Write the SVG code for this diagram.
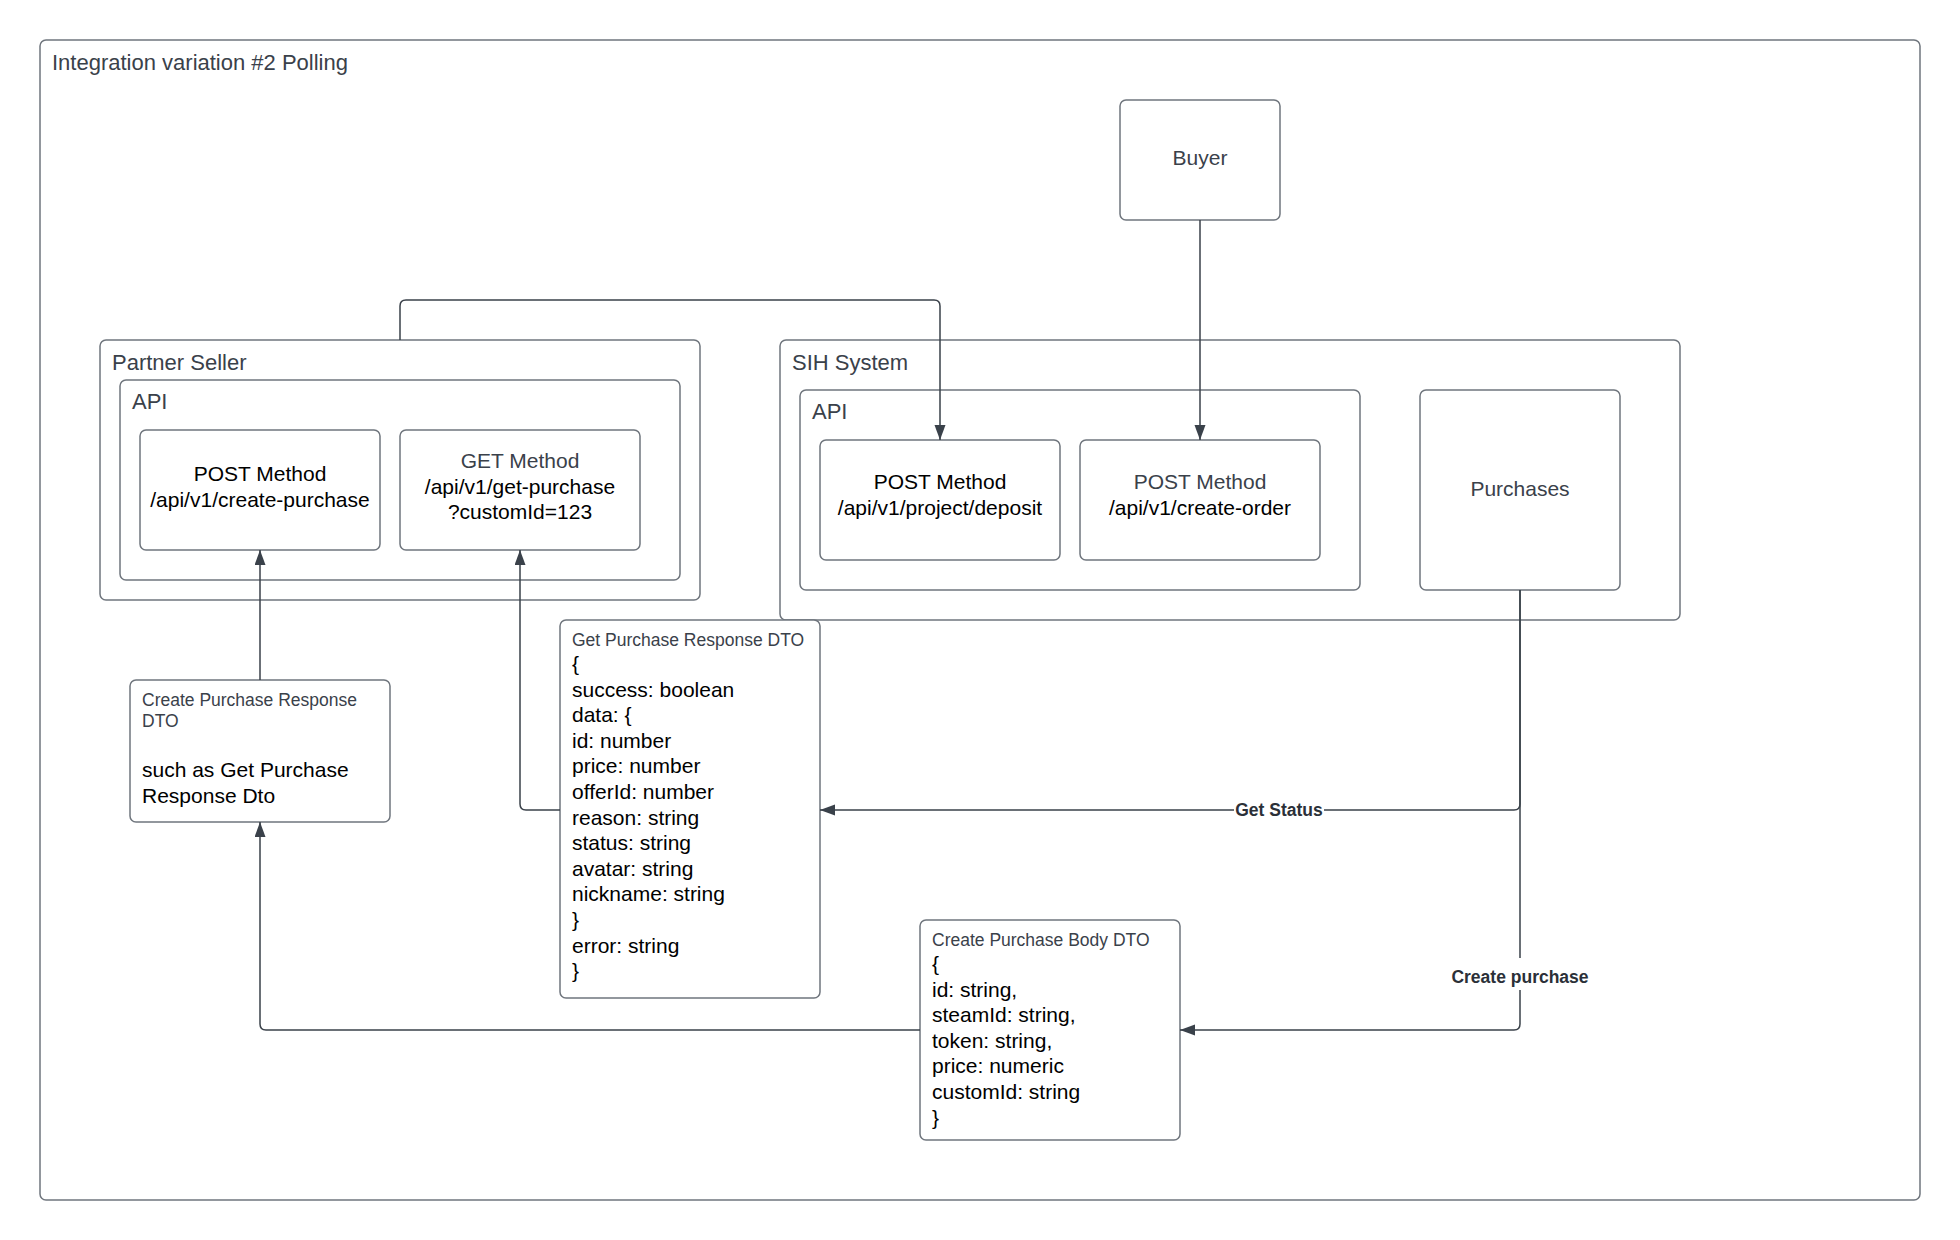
<svg xmlns="http://www.w3.org/2000/svg" width="1960" height="1240" viewBox="0 0 1960 1240">
<defs>
<style>
.box{fill:#fff;stroke:#6f757d;stroke-width:1.5}
.t{font-family:"Liberation Sans",Arial,sans-serif}
.lbl{font-size:22px;fill:#3a414a}
.n{font-size:21px;fill:#000;text-anchor:middle}
.ng{font-size:21px;fill:#3a414a;text-anchor:middle}
.h{font-size:17.5px;fill:#3a414a}
.b{font-size:21px;fill:#000}
.cl{font-size:17.5px;font-weight:bold;fill:#2b3038;text-anchor:middle}
.c{fill:none;stroke:#3a414a;stroke-width:1.5}
</style>
<marker id="arr" markerUnits="userSpaceOnUse" markerWidth="16" markerHeight="12" refX="15" refY="5.5" orient="auto">
<path d="M0,0 L15,5.5 L0,11 z" fill="#3a414a"/>
</marker>
</defs>
<rect width="1960" height="1240" fill="#fff"/>

<g id="frame">
<rect class="box" x="40" y="40" width="1880" height="1160" rx="6"/>
<text class="t lbl" x="52" y="70">Integration variation #2 Polling</text>
</g>

<g id="partner-seller">
<rect class="box" x="100" y="340" width="600" height="260" rx="6"/>
<text class="t lbl" x="112" y="370">Partner Seller</text>
</g>
<g id="partner-api">
<rect class="box" x="120" y="380" width="560" height="200" rx="6"/>
<text class="t lbl" x="132" y="409">API</text>
</g>
<g id="post-create-purchase">
<rect class="box" x="140" y="430" width="240" height="120" rx="6"/>
<text class="t n" x="260" y="481">POST Method</text>
<text class="t n" x="260" y="507">/api/v1/create-purchase</text>
</g>
<g id="get-purchase">
<rect class="box" x="400" y="430" width="240" height="120" rx="6"/>
<text class="t ng" x="520" y="468">GET Method</text>
<text class="t n" x="520" y="494">/api/v1/get-purchase</text>
<text class="t n" x="520" y="519">?customId=123</text>
</g>

<g id="sih-system">
<rect class="box" x="780" y="340" width="900" height="280" rx="6"/>
<text class="t lbl" x="792" y="370">SIH System</text>
</g>
<g id="sih-api">
<rect class="box" x="800" y="390" width="560" height="200" rx="6"/>
<text class="t lbl" x="812" y="419">API</text>
</g>
<g id="post-deposit">
<rect class="box" x="820" y="440" width="240" height="120" rx="6"/>
<text class="t n" x="940" y="489">POST Method</text>
<text class="t n" x="940" y="515">/api/v1/project/deposit</text>
</g>
<g id="post-create-order">
<rect class="box" x="1080" y="440" width="240" height="120" rx="6"/>
<text class="t ng" x="1200" y="489">POST Method</text>
<text class="t n" x="1200" y="515">/api/v1/create-order</text>
</g>
<g id="purchases">
<rect class="box" x="1420" y="390" width="200" height="200" rx="6"/>
<text class="t ng" x="1520" y="496">Purchases</text>
</g>
<g id="buyer">
<rect class="box" x="1120" y="100" width="160" height="120" rx="6"/>
<text class="t ng" x="1200" y="165">Buyer</text>
</g>

<g id="create-purchase-response-dto">
<rect class="box" x="130" y="680" width="260" height="142" rx="6"/>
<text class="t h" x="142" y="706">Create Purchase Response</text>
<text class="t h" x="142" y="727">DTO</text>
<text class="t b" x="142" y="777">such as Get Purchase</text>
<text class="t b" x="142" y="803">Response Dto</text>
</g>

<g id="get-purchase-response-dto">
<rect class="box" x="560" y="620" width="260" height="378" rx="6"/>
<text class="t h" x="572" y="646">Get Purchase Response DTO</text>
<text class="t b" x="572" y="671">{</text>
<text class="t b" x="572" y="696.6">success: boolean</text>
<text class="t b" x="572" y="722.2">data: {</text>
<text class="t b" x="572" y="747.8">id: number</text>
<text class="t b" x="572" y="773.4">price: number</text>
<text class="t b" x="572" y="799">offerId: number</text>
<text class="t b" x="572" y="824.6">reason: string</text>
<text class="t b" x="572" y="850.2">status: string</text>
<text class="t b" x="572" y="875.8">avatar: string</text>
<text class="t b" x="572" y="901.4">nickname: string</text>
<text class="t b" x="572" y="927">}</text>
<text class="t b" x="572" y="952.6">error: string</text>
<text class="t b" x="572" y="978.2">}</text>
</g>

<g id="create-purchase-body-dto">
<rect class="box" x="920" y="920" width="260" height="220" rx="6"/>
<text class="t h" x="932" y="946">Create Purchase Body DTO</text>
<text class="t b" x="932" y="971">{</text>
<text class="t b" x="932" y="996.6">id: string,</text>
<text class="t b" x="932" y="1022.2">steamId: string,</text>
<text class="t b" x="932" y="1047.8">token: string,</text>
<text class="t b" x="932" y="1073.4">price: numeric</text>
<text class="t b" x="932" y="1099">customId: string</text>
<text class="t b" x="932" y="1124.6">}</text>
</g>

<g id="connectors">
<path class="c" d="M400,340 V306 Q400,300 406,300 H934 Q940,300 940,306 V440" marker-end="url(#arr)"/>
<path class="c" d="M1200,220 V440" marker-end="url(#arr)"/>
<path class="c" d="M260,680 V550" marker-end="url(#arr)"/>
<path class="c" d="M560,810 H526 Q520,810 520,804 V550" marker-end="url(#arr)"/>
<path class="c" d="M1520,590 V804 Q1520,810 1514,810 H820" marker-end="url(#arr)"/>
<path class="c" d="M1520,590 V1024 Q1520,1030 1514,1030 H1180" marker-end="url(#arr)"/>
<path class="c" d="M920,1030 H266 Q260,1030 260,1024 V822" marker-end="url(#arr)"/>
<rect x="1234" y="800" width="90" height="20" fill="#fff"/>
<text class="t cl" x="1279" y="816">Get Status</text>
<rect x="1448" y="958" width="144" height="32" fill="#fff"/>
<text class="t cl" x="1520" y="983">Create purchase</text>
</g>
</svg>
